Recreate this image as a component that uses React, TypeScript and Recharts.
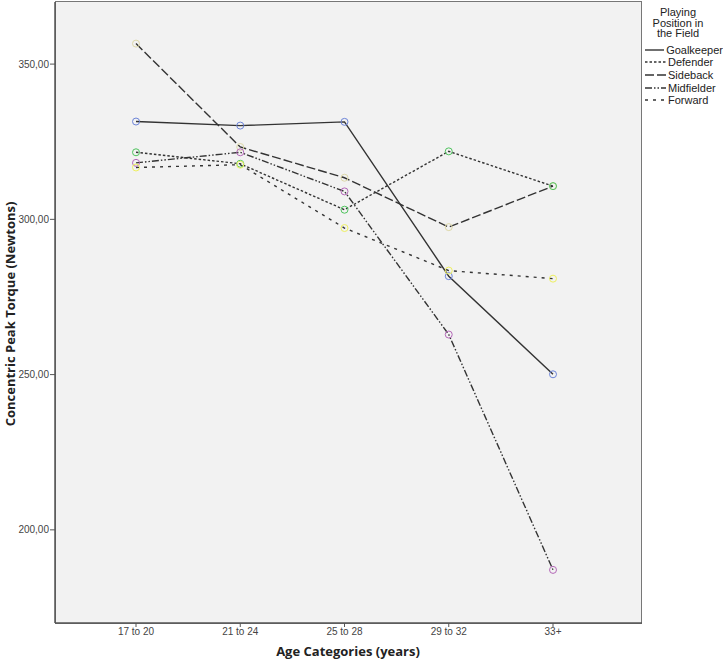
import React from "react";
import { LineChart, Line, XAxis, YAxis, CartesianGrid } from "recharts";

const ageGroups = ["17 to 20", "21 to 24", "25 to 28", "29 to 32", "33+"];
const goalkeeper = [331.5, 330.2, 331.4, 281.7, 250.1];
const defender = [321.6, 317.9, 303.1, 321.9, 310.7];
const sideback = [356.6, 323.3, 313.4, 297.5, 310.7];
const midfielder = [318.2, 321.6, 309.0, 262.9, 187.1];
const forward = [316.7, 317.6, 297.2, 283.5, 280.9];
const yTicks = [200, 250, 300, 350];

const series = [
  { key: "goalkeeper", name: "Goalkeeper", values: goalkeeper, marker: "#6c84d8", dash: "" },
  { key: "defender", name: "Defender", values: defender, marker: "#4fc45e", dash: "2.5 2" },
  { key: "sideback", name: "Sideback", values: sideback, marker: "#ddd8a8", dash: "9 3" },
  { key: "midfielder", name: "Midfielder", values: midfielder, marker: "#b468b8", dash: "7 2 1.5 2 1.5 2" },
  { key: "forward", name: "Forward", values: forward, marker: "#eef060", dash: "3 5" },
];

// draw order: sideback under defender so the green ring sits on top at 33+
const drawOrder = ["goalkeeper", "sideback", "defender", "midfielder", "forward"];

const fmt = (v: number) => v.toFixed(2).replace(".", ",");

export default function App() {
  const data = ageGroups.map((age, i) => {
    const row: Record<string, string | number> = { age };
    series.forEach((s) => (row[s.key] = s.values[i]));
    return row;
  });

  const font = "'Liberation Sans', Arial, sans-serif";

  return (
    <div style={{ position: "absolute", left: 0, top: 0, width: 723, height: 660, background: "#fff", fontFamily: font }}>
      <div
        style={{
          position: "absolute",
          left: 55,
          top: 1,
          width: 587,
          height: 623,
          background: "#f2f2f2",
          border: "1px solid #777",
          boxSizing: "border-box",
        }}
      />
      <div style={{ position: "absolute", left: 0, top: 0 }}>
        <LineChart width={723} height={660} data={data} margin={{ top: 2, right: 81, bottom: 0, left: 0 }}>
          <CartesianGrid horizontal={false} vertical={false} />
          <XAxis
            dataKey="age"
            height={37}
            padding={{ left: 81, right: 89 }}
            tick={{ fontSize: 10, fill: "#444", fontFamily: font }}
            tickSize={4}
            tickMargin={1}
            axisLine={{ stroke: "#555", strokeWidth: 1.5 }}
            tickLine={{ stroke: "#555" }}
          />
          <YAxis
            width={55}
            domain={[170, 370]}
            ticks={yTicks}
            tickFormatter={fmt}
            tick={{ fontSize: 10, fill: "#444", fontFamily: font }}
            tickSize={5}
            tickMargin={1}
            axisLine={{ stroke: "#555", strokeWidth: 1.5 }}
            tickLine={{ stroke: "#555" }}
          />
          {drawOrder.map((k) => {
            const s = series.find((x) => x.key === k)!;
            return (
              <Line
                key={s.key}
                type="linear"
                dataKey={s.key}
                name={s.name}
                stroke="#333"
                strokeWidth={1.4}
                strokeDasharray={s.dash || undefined}
                dot={{ r: 3.5, stroke: s.marker, strokeWidth: 1, fill: "none", strokeDasharray: "none" }}
                activeDot={false}
                isAnimationActive={false}
              />
            );
          })}
        </LineChart>
      </div>

      <div
        style={{
          position: "absolute",
          left: 348,
          top: 651,
          transform: "translate(-50%, -50%)",
          fontFamily: "'Open Sans', sans-serif",
          fontWeight: 700,
          fontSize: 13,
          color: "#222",
          whiteSpace: "nowrap",
        }}
      >
        Age Categories (years)
      </div>
      <div
        style={{
          position: "absolute",
          left: 10,
          top: 314,
          transform: "translate(-50%, -50%) rotate(-90deg)",
          fontFamily: "'Open Sans', sans-serif",
          fontWeight: 700,
          fontSize: 13,
          color: "#222",
          whiteSpace: "nowrap",
        }}
      >
        Concentric Peak Torque (Newtons)
      </div>

      <div style={{ position: "absolute", left: 645, top: 7, width: 78, fontSize: 11, color: "#222" }}>
        <div style={{ textAlign: "center", lineHeight: "10.5px", width: 66, marginBottom: 5 }}>
          Playing
          <br />
          Position in
          <br />
          the Field
        </div>
        {series.map((s) => (
          <div key={s.key} style={{ display: "flex", alignItems: "center", height: 12.6, whiteSpace: "nowrap" }}>
            <svg width={21} height={6} style={{ marginRight: 2 }}>
              <line x1={0} y1={3} x2={21} y2={3} stroke="#333" strokeWidth={1.4} strokeDasharray={s.dash || undefined} />
            </svg>
            <span>{s.name}</span>
          </div>
        ))}
      </div>
    </div>
  );
}
